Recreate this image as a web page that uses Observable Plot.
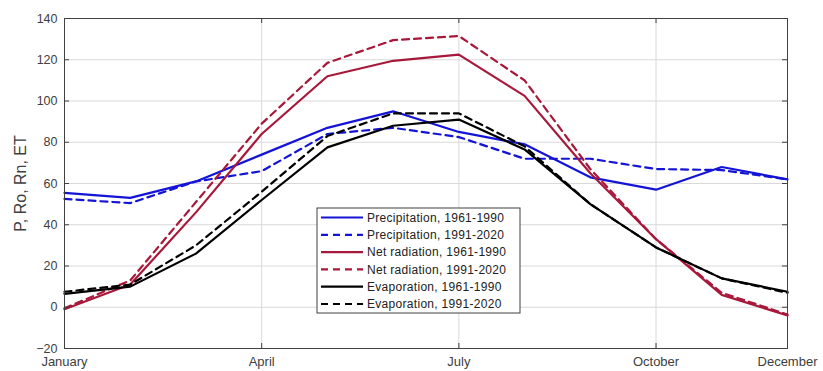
<!DOCTYPE html>
<html>
<head>
<meta charset="utf-8">
<script src="https://cdn.jsdelivr.net/npm/d3@7"></script>
<script src="https://cdn.jsdelivr.net/npm/@observablehq/plot@0.6"></script>
<style>
  html, body { margin: 0; padding: 0; background: #fff; }
  #chart { width: 823px; height: 371px; }
</style>
</head>
<body>
<div id="chart"></div>
<script>
const months = ["January","February","March","April","May","June","July","August","September","October","November","December"];
const xTickMonths = [1, 4, 7, 10, 12];
const yTicks = [-20, 0, 20, 40, 60, 80, 100, 120, 140];

const precip6190 = [55.5, 53, 61, 74, 87, 95, 85, 79, 63, 57, 68, 62];
const precip9120 = [52.5, 50.5, 61, 66, 84, 87, 82.5, 72, 72, 67, 66.5, 62];
const netrad6190 = [-1, 11, 46, 84, 112, 119.5, 122.5, 102.5, 65, 33, 6, -4];
const netrad9120 = [-0.5, 13, 51, 89, 118.5, 129.5, 131.5, 110, 67, 33, 7, -3.5];
const evap6190 = [6.5, 10, 26, 52, 77.5, 88, 91, 76.5, 50, 29, 14, 7.5];
const evap9120 = [7.5, 11, 30, 56, 83, 94, 94, 78, 50, 29, 14, 7];

const seriesNames = [
  "Precipitation, 1961-1990",
  "Precipitation, 1991-2020",
  "Net radiation, 1961-1990",
  "Net radiation, 1991-2020",
  "Evaporation, 1961-1990",
  "Evaporation, 1991-2020"
];
const seriesValues = [precip6190, precip9120, netrad6190, netrad9120, evap6190, evap9120];
const seriesColors = ["#1414d6", "#1414d6", "#a8183a", "#a8183a", "#000000", "#000000"];
const seriesDashed = [false, true, false, true, false, true];

const W = 823, H = 371;
const mL = 64, mR = 36, mT = 18, mB = 23;
const innerW = W - mL - mR, innerH = H - mT - mB;

const lineMarks = seriesValues.map((vals, i) =>
  Plot.line(vals.map((v, j) => ({m: j + 1, v})), {
    x: "m", y: "v",
    stroke: seriesColors[i],
    strokeWidth: 2.2,
    strokeDasharray: seriesDashed[i] ? "7,5" : null
  })
);

const chart = Plot.plot({
  width: W, height: H,
  marginLeft: mL, marginRight: mR, marginTop: mT, marginBottom: mB,
  style: {fontFamily: "'Liberation Sans', Arial, sans-serif", fontSize: "12.5px", color: "#404040", background: "#fff"},
  x: {domain: [1, 12], type: "linear"},
  y: {domain: [-20, 140]},
  marks: [
    Plot.gridY(yTicks, {stroke: "#d9d9d9", strokeOpacity: 1}),
    Plot.gridX([4, 7, 10], {stroke: "#d9d9d9", strokeOpacity: 1}),
    ...lineMarks,
    Plot.frame({stroke: "#404040", strokeWidth: 1}),
    Plot.tickY(yTicks, {y: d => d, stroke: "#404040", insetRight: innerW - 5}),
    Plot.tickY(yTicks, {y: d => d, stroke: "#404040", insetLeft: innerW - 5}),
    Plot.tickX(xTickMonths, {x: d => d, stroke: "#404040", insetTop: innerH - 5}),
    Plot.tickX(xTickMonths, {x: d => d, stroke: "#404040", insetBottom: innerH - 5}),
    Plot.axisY(yTicks, {
      tickSize: 0, tickPadding: 7, fill: "#404040",
      label: "P, Ro, Rn, ET", labelAnchor: "center", labelArrow: "none", labelOffset: 50
    }),
    Plot.axisX(xTickMonths, {
      tickSize: 0, tickPadding: 8, fill: "#404040", fontSize: 13,
      tickFormat: d => months[d - 1], label: null
    })
  ]
});

document.getElementById("chart").appendChild(chart);

// style y-axis label
d3.select(chart).selectAll("[aria-label='y-axis label'] text").style("font-size", "16px");

// Legend (MATLAB style box)
const svg = d3.select(chart);
const lg = svg.append("g").attr("class", "legend").attr("text-anchor", "start");
const bx = 317, by = 208, bw = 203, bh = 105;
lg.append("rect").attr("x", bx).attr("y", by).attr("width", bw).attr("height", bh)
  .attr("fill", "#fff").attr("stroke", "#404040").attr("stroke-width", 1);
seriesNames.forEach((name, i) => {
  const cy = by + 9.5 + i * 17.3;
  lg.append("line").attr("x1", bx + 4).attr("x2", bx + 46).attr("y1", cy).attr("y2", cy)
    .attr("stroke", seriesColors[i]).attr("stroke-width", 2.2)
    .attr("stroke-dasharray", seriesDashed[i] ? "7,5" : null);
  lg.append("text").attr("x", bx + 50).attr("y", cy).attr("dy", "0.35em")
    .attr("text-anchor", "start")
    .attr("font-size", "12px").attr("letter-spacing", "0.3px").attr("fill", "#222")
    .attr("font-family", "'Liberation Sans', Arial, sans-serif")
    .text(name);
});
</script>
</body>
</html>
